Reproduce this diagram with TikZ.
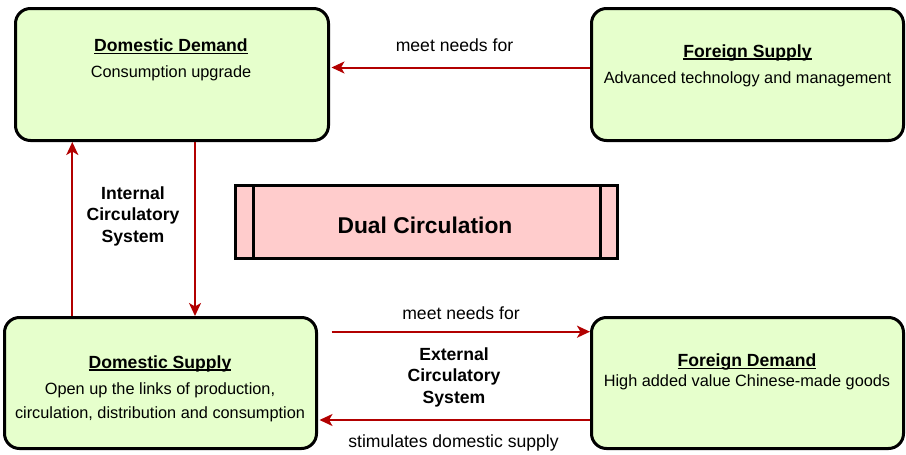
\documentclass[tikz,border=0pt]{standalone}
\usepackage{fontspec}
\setmainfont{Liberation Sans}
\usetikzlibrary{arrows.meta,calc}
\definecolor{boxgreen}{HTML}{E6FFCC}
\definecolor{boxpink}{HTML}{FFCCCC}
\definecolor{arrred}{HTML}{B20000}
\newcommand\myul[1]{\setbox0\hbox{#1}\rlap{\rule[-2.2pt]{\wd0}{1.1pt}}\box0}
\begin{document}
\begin{tikzpicture}[x=1pt,y=-1pt,
  boxnode/.style={draw=black, line width=3pt, fill=boxgreen, rounded corners=15pt, inner sep=0pt},
  procbox/.style={draw=black, line width=3pt, fill=boxpink, inner sep=0pt},
  ttl/.style={anchor=base, inner sep=0pt, font=\fontsize{17.6}{21}\selectfont\bfseries},
  bodytxt/.style={anchor=base, inner sep=0pt, font=\fontsize{16.3}{24.7}\selectfont},
  lbl/.style={anchor=base, inner sep=0pt, font=\fontsize{17.6}{21}\selectfont},
  syslbl/.style={inner sep=0pt, align=center, font=\fontsize{17.6}{21.8}\selectfont\bfseries},
  arr/.style={draw=arrred, line width=2pt, -{Stealth[length=13pt, width=12pt, inset=3.5pt]}}
]
\useasboundingbox (0,0) rectangle (906,455);

% boxes
\node[boxnode, minimum width=313pt, minimum height=132pt] (dd) at (172,74.5) {};
\node[boxnode, minimum width=312pt, minimum height=132pt] (fs) at (747.5,74.5) {};
\node[boxnode, minimum width=312pt, minimum height=131pt] (ds) at (160.5,383) {};
\node[boxnode, minimum width=312pt, minimum height=131pt] (fd) at (747.5,383) {};

% process box
\node[procbox, minimum width=382pt, minimum height=73pt] (dc) at (426.5,222) {};
\draw[line width=3pt] (dc.north west -| 253,0) -- (dc.south west -| 253,0);
\draw[line width=3pt] (dc.north east -| 600,0) -- (dc.south east -| 600,0);
\node[anchor=base, inner sep=0pt, font=\fontsize{22.8}{26}\selectfont\bfseries] (dct) at (425,233) {Dual Circulation};

% box texts
\node[ttl] (ddt) at (171,51.7) {\myul{Domestic Demand}};
\node[bodytxt] (ddb) at (171,77.3) {Consumption upgrade};
\node[ttl] (fst) at (747.5,57.3) {\myul{Foreign Supply}};
\node[bodytxt] (fsb) at (747.5,83.3) {Advanced technology and management};
\node[ttl] (dst) at (160,368.3) {\myul{Domestic Supply}};
\node[bodytxt, anchor=center, align=center] (dsb) at (160,402.4) {Open up the links of production,\\circulation, distribution and consumption};
\node[ttl] (fdt) at (747,366.7) {\myul{Foreign Demand}};
\node[bodytxt] (fdb) at (747,386.7) {High added value Chinese-made goods};

% connectors
\draw[arr, shorten >=1.5pt] (fs.west |- 0,67.5) -- (dd.east |- 0,67.5);
\draw[arr, shorten <=13.5pt] (ds.east |- 0,331.7) -- (fd.west |- 0,331.7);
\draw[arr, shorten >=1.5pt] (fd.west |- 0,420) -- (ds.east |- 0,420);
\draw[arr] (ds.north -| 72.3,0) -- (dd.south -| 72.3,0);
\draw[arr] (dd.south -| 195,0) -- (ds.north -| 195,0);

% labels
\node[lbl] (l1) at (454.5,51) {meet needs for};
\node[lbl] (l2) at (461,319) {meet needs for};
\node[lbl] (l3) at (453.5,447) {stimulates domestic supply};
\node[syslbl] (ics) at (133,216.3) {Internal\\Circulatory\\System};
\node[syslbl] (ecs) at (454,377.4) {External\\Circulatory\\System};
\end{tikzpicture}
\end{document}
